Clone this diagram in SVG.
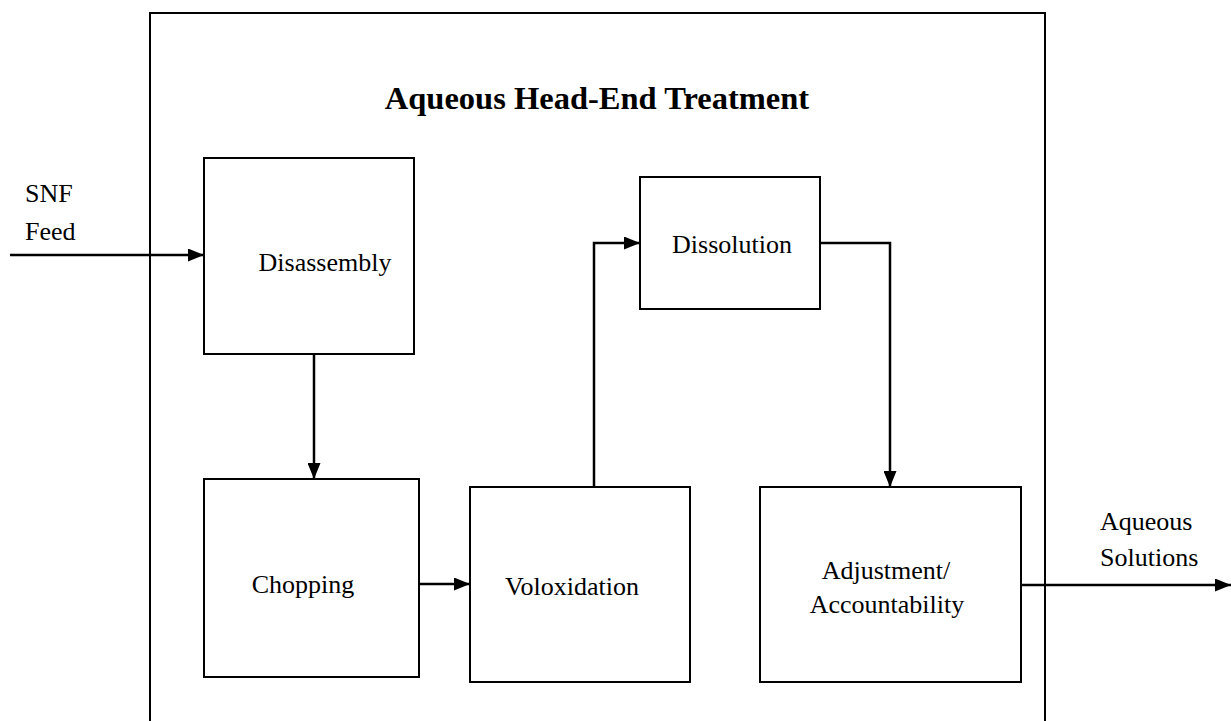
<svg xmlns="http://www.w3.org/2000/svg" width="1231" height="721" viewBox="0 0 1231 721">
  <style>
    .box { fill: #ffffff; stroke: #000000; stroke-width: 2; }
    .frame { fill: none; stroke: #000000; stroke-width: 2; }
    .wire { fill: none; stroke: #000000; stroke-width: 2.5; marker-end: url(#head); }
    .lbl { font-family: "Liberation Serif", "Times New Roman", serif; font-size: 26px; fill: #000000; }
    .title { font-family: "Liberation Serif", "Times New Roman", serif; font-size: 32.5px; font-weight: bold; fill: #000000; }
  </style>
  <defs>
    <marker id="head" viewBox="0 0 16 13" refX="16" refY="6.5" markerWidth="16" markerHeight="13" markerUnits="userSpaceOnUse" orient="auto">
      <path d="M0,0 L16,6.5 L0,13 Z" fill="#000000"/>
    </marker>
  </defs>

  <rect width="1231" height="721" fill="#ffffff"/>

  <!-- enclosing process boundary, open at the bottom -->
  <g id="boundary">
    <path class="frame" d="M150,721 V13 H1045 V721"/>
    <text class="title" x="597" y="109" text-anchor="middle">Aqueous Head-End Treatment</text>
  </g>

  <g id="disassembly">
    <rect class="box" x="204" y="158" width="210" height="196"/>
    <text class="lbl" x="325" y="271" text-anchor="middle">Disassembly</text>
  </g>

  <g id="dissolution">
    <rect class="box" x="640" y="177" width="180" height="132"/>
    <text class="lbl" x="732" y="253" text-anchor="middle">Dissolution</text>
  </g>

  <g id="chopping">
    <rect class="box" x="204" y="479" width="215" height="198"/>
    <text class="lbl" x="303" y="593" text-anchor="middle">Chopping</text>
  </g>

  <g id="voloxidation">
    <rect class="box" x="470" y="487" width="220" height="195"/>
    <text class="lbl" x="572" y="595" text-anchor="middle">Voloxidation</text>
  </g>

  <g id="adjustment">
    <rect class="box" x="760" y="487" width="261" height="195"/>
    <text class="lbl" x="886" y="579" text-anchor="middle">Adjustment/</text>
    <text class="lbl" x="887" y="613" text-anchor="middle">Accountability</text>
  </g>

  <g id="snf-feed">
    <text class="lbl" x="25" y="202">SNF</text>
    <text class="lbl" x="25" y="240">Feed</text>
  </g>

  <g id="aqueous-solutions">
    <text class="lbl" x="1100" y="530">Aqueous</text>
    <text class="lbl" x="1100" y="566">Solutions</text>
  </g>

  <g id="connectors">
    <path class="wire" d="M10,255 H204"/>
    <path class="wire" d="M314,354 V479"/>
    <path class="wire" d="M419,584 H470"/>
    <path class="wire" d="M594,487 V243 H640"/>
    <path class="wire" d="M820,243 H890 V487"/>
    <path class="wire" d="M1021,585 H1231"/>
  </g>
</svg>
